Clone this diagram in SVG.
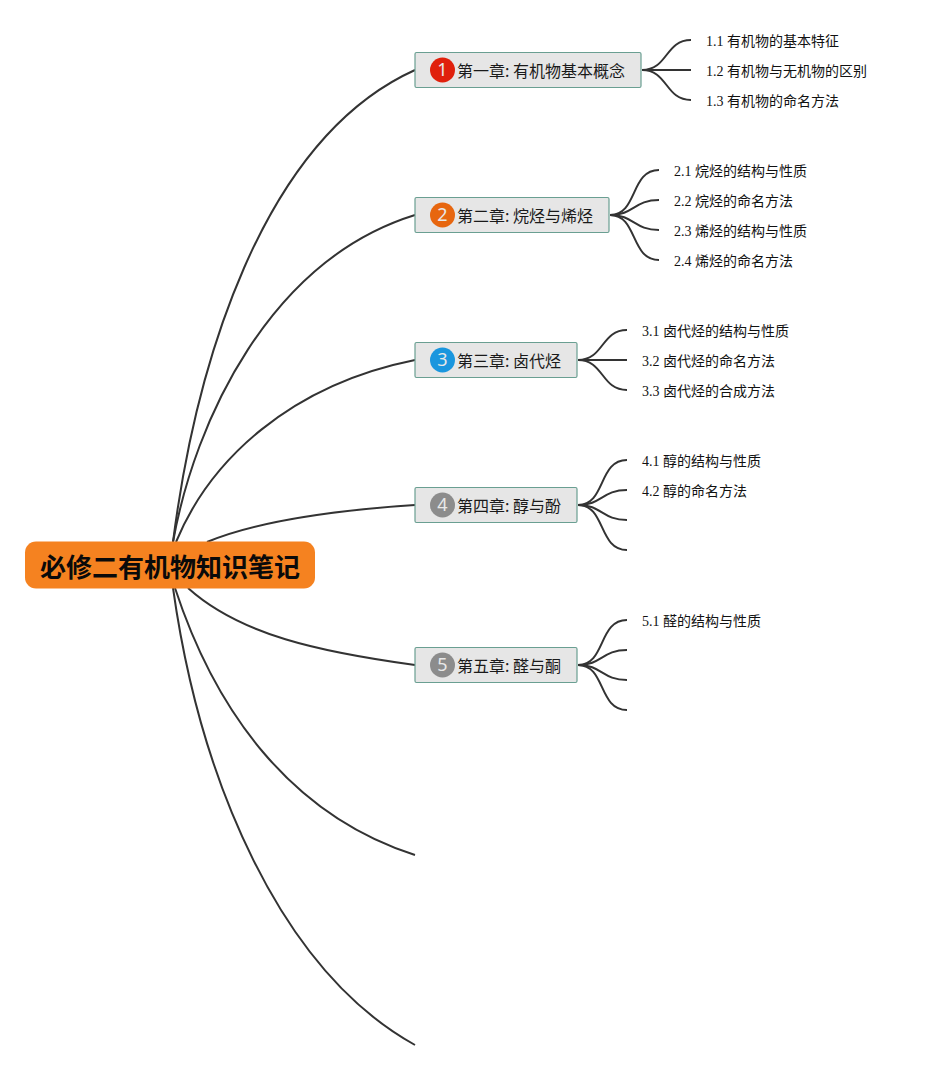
<svg xmlns="http://www.w3.org/2000/svg" width="927" height="1070" viewBox="0 0 927 1070">
<style>
.c{fill:none;stroke:#333;stroke-width:2}
.n rect{fill:#e6e6e6;stroke:#6a9f92;stroke-width:1.2}
.t{font-family:"Noto Sans CJK SC","Liberation Sans",sans-serif;font-size:16px;fill:#1a1a1a}
.l{font-family:"Liberation Serif","Noto Sans CJK SC",serif;font-size:14px;fill:#111}
.b{font-family:"Noto Sans",sans-serif;font-size:18px;fill:#e8e8e8;text-anchor:middle}
.r{font-family:"Noto Sans CJK SC",sans-serif;font-size:26px;font-weight:700;fill:#0a0a0a}
</style>
<rect width="927" height="1070" fill="#fff"/>
<g id="connectors">
<path class="c" d="M173 542C195 370 260 140 415 70"/>
<path class="c" d="M173 542C195 420 270 260 415 215"/>
<path class="c" d="M176 542C210 460 290 385 415 360"/>
<path class="c" d="M207 542C260 520 340 510 415 505"/>
<path class="c" d="M188 588C240 635 320 652 415 665"/>
<path class="c" d="M175 588C215 710 290 815 415 855"/>
<path class="c" d="M173 588C200 780 280 970 415 1045"/>
<path class="c" d="M642 70C668 70 665 40 691 40"/>
<path class="c" d="M642 70H691"/>
<path class="c" d="M642 70C668 70 665 100 691 100"/>
<path class="c" d="M610 215C638 215 630 170 659 170"/>
<path class="c" d="M610 215C634 215 634 200 659 200"/>
<path class="c" d="M610 215C634 215 634 230 659 230"/>
<path class="c" d="M610 215C638 215 630 260 659 260"/>
<path class="c" d="M578 360C604 360 601 330 627 330"/>
<path class="c" d="M578 360H627"/>
<path class="c" d="M578 360C604 360 601 390 627 390"/>
<path class="c" d="M578 505C606 505 598 460 627 460"/>
<path class="c" d="M578 505C602 505 602 490 627 490"/>
<path class="c" d="M578 505C602 505 602 520 627 520"/>
<path class="c" d="M578 505C606 505 598 550 627 550"/>
<path class="c" d="M578 665C606 665 598 620 627 620"/>
<path class="c" d="M578 665C602 665 602 650 627 650"/>
<path class="c" d="M578 665C602 665 602 680 627 680"/>
<path class="c" d="M578 665C606 665 598 710 627 710"/>
</g>
<g id="root"><rect x="25" y="541.500" width="290" height="47" rx="11" fill="#f58220"/><text class="r" x="40" y="577">必修二有机物知识笔记</text></g>
<g id="ch1" class="n"><rect x="415" y="52.500" width="226" height="35" rx="1.500"/><circle cx="442.500" cy="70" r="12.500" fill="#e0200c"/><text class="b" x="442.500" y="76">1</text><text class="t" x="457" y="77">第一章: 有机物基本概念</text></g>
<g id="ch2" class="n"><rect x="415" y="197.500" width="194" height="35" rx="1.500"/><circle cx="442.500" cy="215" r="12.500" fill="#e7660f"/><text class="b" x="442.500" y="221">2</text><text class="t" x="457" y="222">第二章: 烷烃与烯烃</text></g>
<g id="ch3" class="n"><rect x="415" y="342.500" width="162" height="35" rx="1.500"/><circle cx="442.500" cy="360" r="12.500" fill="#1a96de"/><text class="b" x="442.500" y="366">3</text><text class="t" x="457" y="367">第三章: 卤代烃</text></g>
<g id="ch4" class="n"><rect x="415" y="487.500" width="162" height="35" rx="1.500"/><circle cx="442.500" cy="505" r="12.500" fill="#8c8c8c"/><text class="b" x="442.500" y="511">4</text><text class="t" x="457" y="512">第四章: 醇与酚</text></g>
<g id="ch5" class="n"><rect x="415" y="647.500" width="162" height="35" rx="1.500"/><circle cx="442.500" cy="665" r="12.500" fill="#8c8c8c"/><text class="b" x="442.500" y="671">5</text><text class="t" x="457" y="672">第五章: 醛与酮</text></g>
<g id="t11"><text class="l" x="706" y="46">1.1 有机物的基本特征</text></g>
<g id="t12"><text class="l" x="706" y="76">1.2 有机物与无机物的区别</text></g>
<g id="t13"><text class="l" x="706" y="106">1.3 有机物的命名方法</text></g>
<g id="t21"><text class="l" x="674" y="176">2.1 烷烃的结构与性质</text></g>
<g id="t22"><text class="l" x="674" y="206">2.2 烷烃的命名方法</text></g>
<g id="t23"><text class="l" x="674" y="236">2.3 烯烃的结构与性质</text></g>
<g id="t24"><text class="l" x="674" y="266">2.4 烯烃的命名方法</text></g>
<g id="t31"><text class="l" x="642" y="336">3.1 卤代烃的结构与性质</text></g>
<g id="t32"><text class="l" x="642" y="366">3.2 卤代烃的命名方法</text></g>
<g id="t33"><text class="l" x="642" y="396">3.3 卤代烃的合成方法</text></g>
<g id="t41"><text class="l" x="642" y="466">4.1 醇的结构与性质</text></g>
<g id="t42"><text class="l" x="642" y="496">4.2 醇的命名方法</text></g>
<g id="t51"><text class="l" x="642" y="626">5.1 醛的结构与性质</text></g>
</svg>
